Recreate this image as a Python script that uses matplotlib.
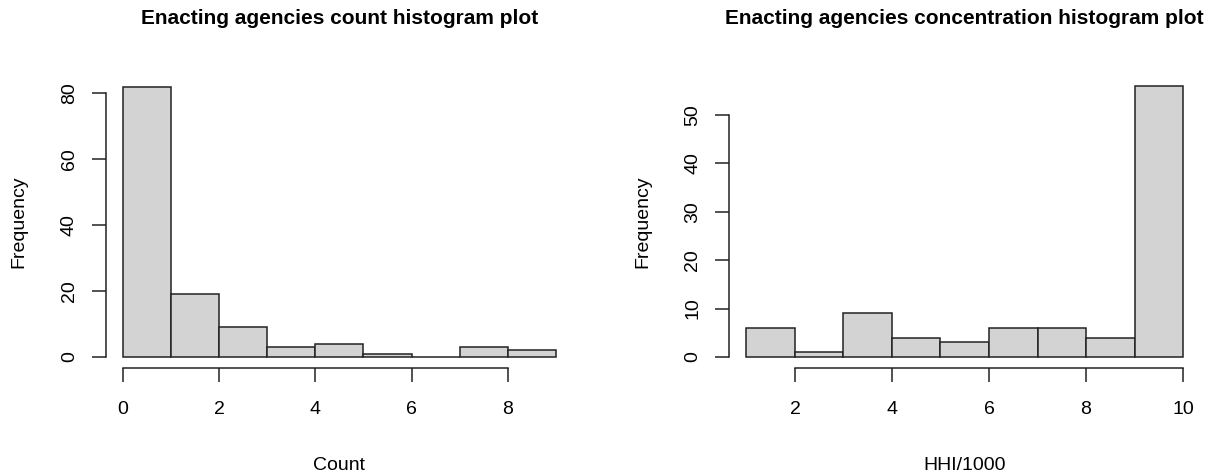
"""
Enacting agencies: count and concentration histograms (R base-graphics look).
"""

import matplotlib
matplotlib.use("Agg")
import matplotlib.pyplot as plt

plt.rcParams["font.family"] = ["Liberation Sans", "DejaVu Sans"]

# histogram bins and counts
count_edges = [0, 1, 2, 3, 4, 5, 6, 7, 8, 9]
count_freq = [82, 19, 9, 3, 4, 1, 0, 3, 2]

hhi_edges = [1, 2, 3, 4, 5, 6, 7, 8, 9, 10]
hhi_freq = [6, 1, 9, 4, 3, 6, 6, 4, 56]

count_xticks = [0, 2, 4, 6, 8]
count_yticks = [0, 20, 40, 60, 80]
hhi_xticks = [2, 4, 6, 8, 10]
hhi_yticks = [0, 10, 20, 30, 40, 50]

W, H = 1209, 474
fig = plt.figure(figsize=(W / 100, H / 100), dpi=100)


def px_axes(x0, x1, y0, y1):
    # pixel box (top-left origin) -> figure axes
    return fig.add_axes([x0 / W, 1 - y1 / H, (x1 - x0) / W, (y1 - y0) / H])


def r_hist(ax, edges, freq, xticks, yticks, xlabel, title):
    lefts = edges[:-1]
    ax.bar(lefts, freq, width=1, align="edge", color="#d3d3d3",
           edgecolor="#222222", linewidth=1.1)
    xr = edges[-1] - edges[0]
    ymax = max(freq)
    ax.set_xlim(edges[0] - 0.04 * xr, edges[-1] + 0.04 * xr)
    ax.set_ylim(-0.04 * ymax, ymax * 1.04)
    ax.set_xticks(xticks)
    ax.set_yticks(yticks)
    ax.set_yticklabels([str(t) for t in yticks], rotation=90, va="center")
    for s in ["top", "right"]:
        ax.spines[s].set_visible(False)
    ax.spines["left"].set_bounds(yticks[0], yticks[-1])
    ax.spines["bottom"].set_bounds(xticks[0], xticks[-1])
    for s in ["left", "bottom"]:
        ax.spines[s].set_linewidth(1.1)
        ax.spines[s].set_color("#222222")
    ax.tick_params(axis="both", length=10, width=1.1, color="#222222",
                   labelsize=14)
    ax.tick_params(axis="x", pad=14)
    ax.tick_params(axis="y", pad=10)
    ax.set_xlabel(xlabel, fontsize=14, labelpad=28)
    ax.set_ylabel("Frequency", fontsize=14, labelpad=24)
    bb = ax.get_position()
    fig.text((bb.x0 + bb.x1) / 2, 1 - 18 / H, title, ha="center", va="center",
             fontsize=15, fontweight="bold")


ax1 = px_axes(105.7, 573.2, 76, 367.8)
r_hist(ax1, count_edges, count_freq, count_xticks, count_yticks,
       "Count", "Enacting agencies count histogram plot")

ax2 = px_axes(729, 1200.5, 75.2, 367.8)
r_hist(ax2, hhi_edges, hhi_freq, hhi_xticks, hhi_yticks,
       "HHI/1000", "Enacting agencies concentration histogram plot")

fig.savefig("out.png", dpi=100)
